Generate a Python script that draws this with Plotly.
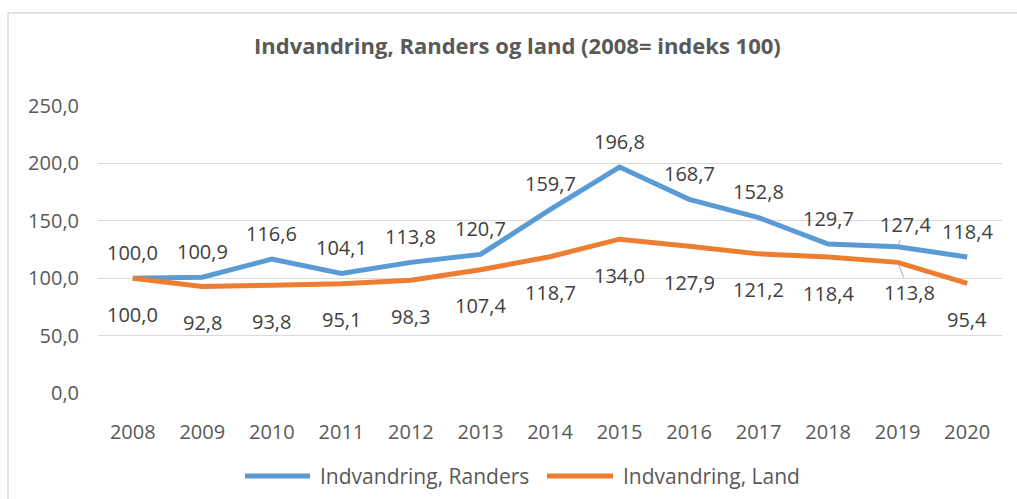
import plotly.graph_objects as go

years = ["2008", "2009", "2010", "2011", "2012", "2013", "2014",
         "2015", "2016", "2017", "2018", "2019", "2020"]
randers = [100.0, 100.9, 116.6, 104.1, 113.8, 120.7, 159.7,
           196.8, 168.7, 152.8, 129.7, 127.4, 118.4]
land = [100.0, 92.8, 93.8, 95.1, 98.3, 107.4, 118.7,
        134.0, 127.9, 121.2, 118.4, 113.8, 95.4]
series_names = ["Indvandring, Randers", "Indvandring, Land"]
title_text = "Indvandring, Randers og land (2008= indeks 100)"

BLUE = "#5B9BD5"
ORANGE = "#ED7D31"
FONT = "Open Sans"
W, H = 1017, 499
ML, MR, MT, MB = 98, 15, 106, 106
PW, PH = W - ML - MR, H - MT - MB


def fmt(v):
    return f"{v:.1f}".replace(".", ",")


def px_to_paper_x(px):
    return (px - ML) / PW


def px_to_paper_y(py):
    return (H - MB - py) / PH


fig = go.Figure()
fig.add_trace(go.Scatter(x=years, y=randers, mode="lines", name=series_names[0],
                         line=dict(color=BLUE, width=5), showlegend=False,
                         hoverinfo="skip"))
fig.add_trace(go.Scatter(x=years, y=land, mode="lines", name=series_names[1],
                         line=dict(color=ORANGE, width=5), showlegend=False,
                         hoverinfo="skip"))

annotations = []
lbl_font = dict(family=FONT, size=20, color="#404040")
for i, (yr, v) in enumerate(zip(years, randers)):
    if yr == "2019":
        annotations.append(dict(x=i, y=v, xref="x", yref="y", text=fmt(v),
                                showarrow=True, arrowhead=0, arrowwidth=1,
                                arrowcolor="#A6A6A6", ax=8, ay=-22, standoff=0,
                                font=lbl_font))
    else:
        annotations.append(dict(x=i, y=v, xref="x", yref="y", text=fmt(v),
                                showarrow=False, yshift=26, font=lbl_font))
for i, (yr, v) in enumerate(zip(years, land)):
    if yr == "2019":
        annotations.append(dict(x=i, y=v, xref="x", yref="y", text=fmt(v),
                                showarrow=True, arrowhead=0, arrowwidth=1,
                                arrowcolor="#A6A6A6", ax=12, ay=30, standoff=0,
                                font=lbl_font))
    else:
        annotations.append(dict(x=i, y=v, xref="x", yref="y", text=fmt(v),
                                showarrow=False, yshift=-36, font=lbl_font))

# title
annotations.append(dict(x=px_to_paper_x(517), y=px_to_paper_y(45), xref="paper", yref="paper",
                        text="<b>" + title_text + "</b>", showarrow=False,
                        font=dict(family=FONT, size=22, color="#595959"),
                        xanchor="center", yanchor="middle"))

# custom legend
shapes = []
leg_y = px_to_paper_y(476)
legend_items = [(series_names[0], BLUE, 245, 310, 318), (series_names[1], ORANGE, 547, 613, 621)]
for name, col, x0, x1, tx in legend_items:
    shapes.append(dict(type="line", xref="paper", yref="paper",
                       x0=px_to_paper_x(x0), x1=px_to_paper_x(x1), y0=leg_y, y1=leg_y,
                       line=dict(color=col, width=5)))
    annotations.append(dict(x=px_to_paper_x(tx), y=leg_y, xref="paper", yref="paper",
                            text=name, showarrow=False, xanchor="left", yanchor="middle",
                            font=dict(family=FONT, size=21, color="#595959")))

# chart border (top + left visible)
shapes.append(dict(type="line", xref="paper", yref="paper",
                   x0=px_to_paper_x(8), x1=px_to_paper_x(1030),
                   y0=px_to_paper_y(13), y1=px_to_paper_y(13),
                   line=dict(color="#D9D9D9", width=1.5)))
shapes.append(dict(type="line", xref="paper", yref="paper",
                   x0=px_to_paper_x(8), x1=px_to_paper_x(8),
                   y0=px_to_paper_y(13), y1=px_to_paper_y(510),
                   line=dict(color="#D9D9D9", width=1.5)))

fig.update_layout(
    width=W, height=H,
    margin=dict(l=ML, r=MR, t=MT, b=MB, pad=0),
    paper_bgcolor="white", plot_bgcolor="white",
    separators=",.",
    showlegend=False,
    annotations=annotations,
    shapes=shapes,
    font=dict(family=FONT, size=20, color="#595959"),
    xaxis=dict(type="category", range=[-0.5, 12.5], showgrid=False, zeroline=False,
               showline=False, ticks="", ticklabelstandoff=25,
               tickfont=dict(family=FONT, size=20, color="#595959")),
    yaxis=dict(range=[0, 250], dtick=50, tickformat=".1f", showgrid=True,
               gridcolor="#D9D9D9", gridwidth=1, zeroline=False, showline=False,
               ticks="", ticklabelstandoff=18,
               tickfont=dict(family=FONT, size=20, color="#595959")),
)

fig.write_html("out.html", config={"displayModeBar": False},
               post_script="document.body.style.margin='0';document.body.style.overflow='hidden';")
